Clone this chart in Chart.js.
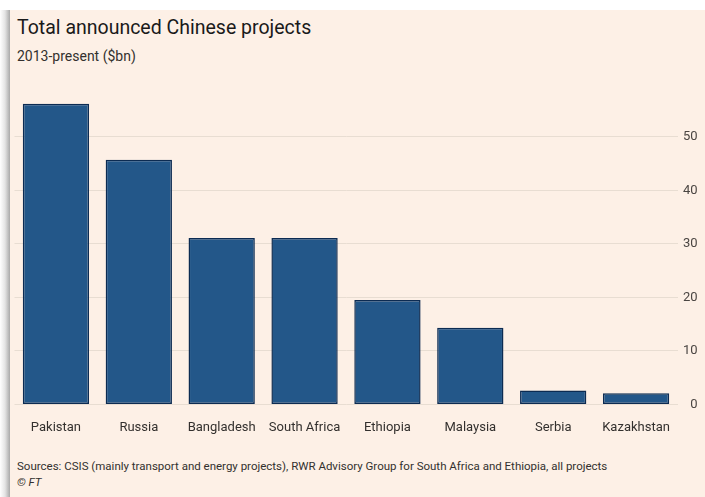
<!DOCTYPE html>
<html>
<head>
<meta charset="utf-8">
<script src="https://cdn.jsdelivr.net/npm/chart.js@4"></script>
<style>
  html, body { margin:0; padding:0; width:705px; height:497px; overflow:hidden; background:#ffffff; font-family: Roboto, "Noto Sans", sans-serif; }
  #shadow { position:absolute; left:0; top:10px; width:10px; height:487px; background:linear-gradient(to right, #ffffff 0%, #e4e4e4 50%, #a9a9a9 100%); }
  #panel { position:absolute; left:10px; top:10px; width:695px; height:487px; background:#fdf0e6; }
  #title { position:absolute; left:17px; top:16px; font-size:19.5px; color:#1a1a1a; white-space:nowrap; }
  #subtitle { position:absolute; left:17px; top:48px; font-size:14px; color:#33302e; white-space:nowrap; }
  #source { position:absolute; left:17px; top:459px; font-size:11.5px; color:#33302e; white-space:nowrap; }
  #ft { position:absolute; left:17px; top:475px; font-size:11.5px; color:#33302e; font-style:italic; white-space:nowrap; }
  #wrap { position:absolute; left:0; top:0; width:705px; height:497px; }
</style>
</head>
<body>
<div id="shadow"></div>
<div id="panel"></div>
<div id="title">Total announced Chinese projects</div>
<div id="subtitle">2013-present ($bn)</div>
<div id="source">Sources: CSIS (mainly transport and energy projects), RWR Advisory Group for South Africa and Ethiopia, all projects</div>
<div id="ft">© FT</div>
<div id="wrap"><canvas id="c" width="705" height="497"></canvas></div>
<script>
const categories = ["Pakistan", "Russia", "Bangladesh", "South Africa", "Ethiopia", "Malaysia", "Serbia", "Kazakhstan"];
const values = [56.2, 45.7, 31.1, 31.1, 19.5, 14.3, 2.6, 2.1];
const yTicks = [0, 10, 20, 30, 40, 50];

new Chart(document.getElementById('c'), {
  type: 'bar',
  data: {
    labels: categories,
    datasets: [{
      data: values,
      backgroundColor: '#235789',
      borderColor: '#0c2b52',
      borderWidth: 1.5,
      borderSkipped: false,
      barPercentage: 0.8,
      categoryPercentage: 1.0
    }]
  },
  options: {
    responsive: false,
    animation: false,
    devicePixelRatio: 1,
    layout: { padding: { left: 14.5, right: 7.5, top: 94, bottom: 53 } },
    plugins: { legend: { display: false }, tooltip: { enabled: false } },
    scales: {
      x: {
        grid: { display: false },
        border: { display: false },
        ticks: { color: '#33302e', font: { family: 'Roboto', size: 13 }, padding: 8, maxRotation: 0, autoSkip: false }
      },
      y: {
        position: 'right',
        min: 0, max: 58,
        afterBuildTicks: (s) => { s.ticks = yTicks.map(v => ({ value: v })); },
        afterFit: (s) => { s.width = 20; },
        grid: { color: '#e8ddd2', lineWidth: 1, drawTicks: false },
        border: { display: false },
        ticks: { color: '#4a4542', font: { family: 'Roboto', size: 13 }, padding: 4, crossAlign: 'far' }
      }
    }
  }
});
</script>
</body>
</html>
